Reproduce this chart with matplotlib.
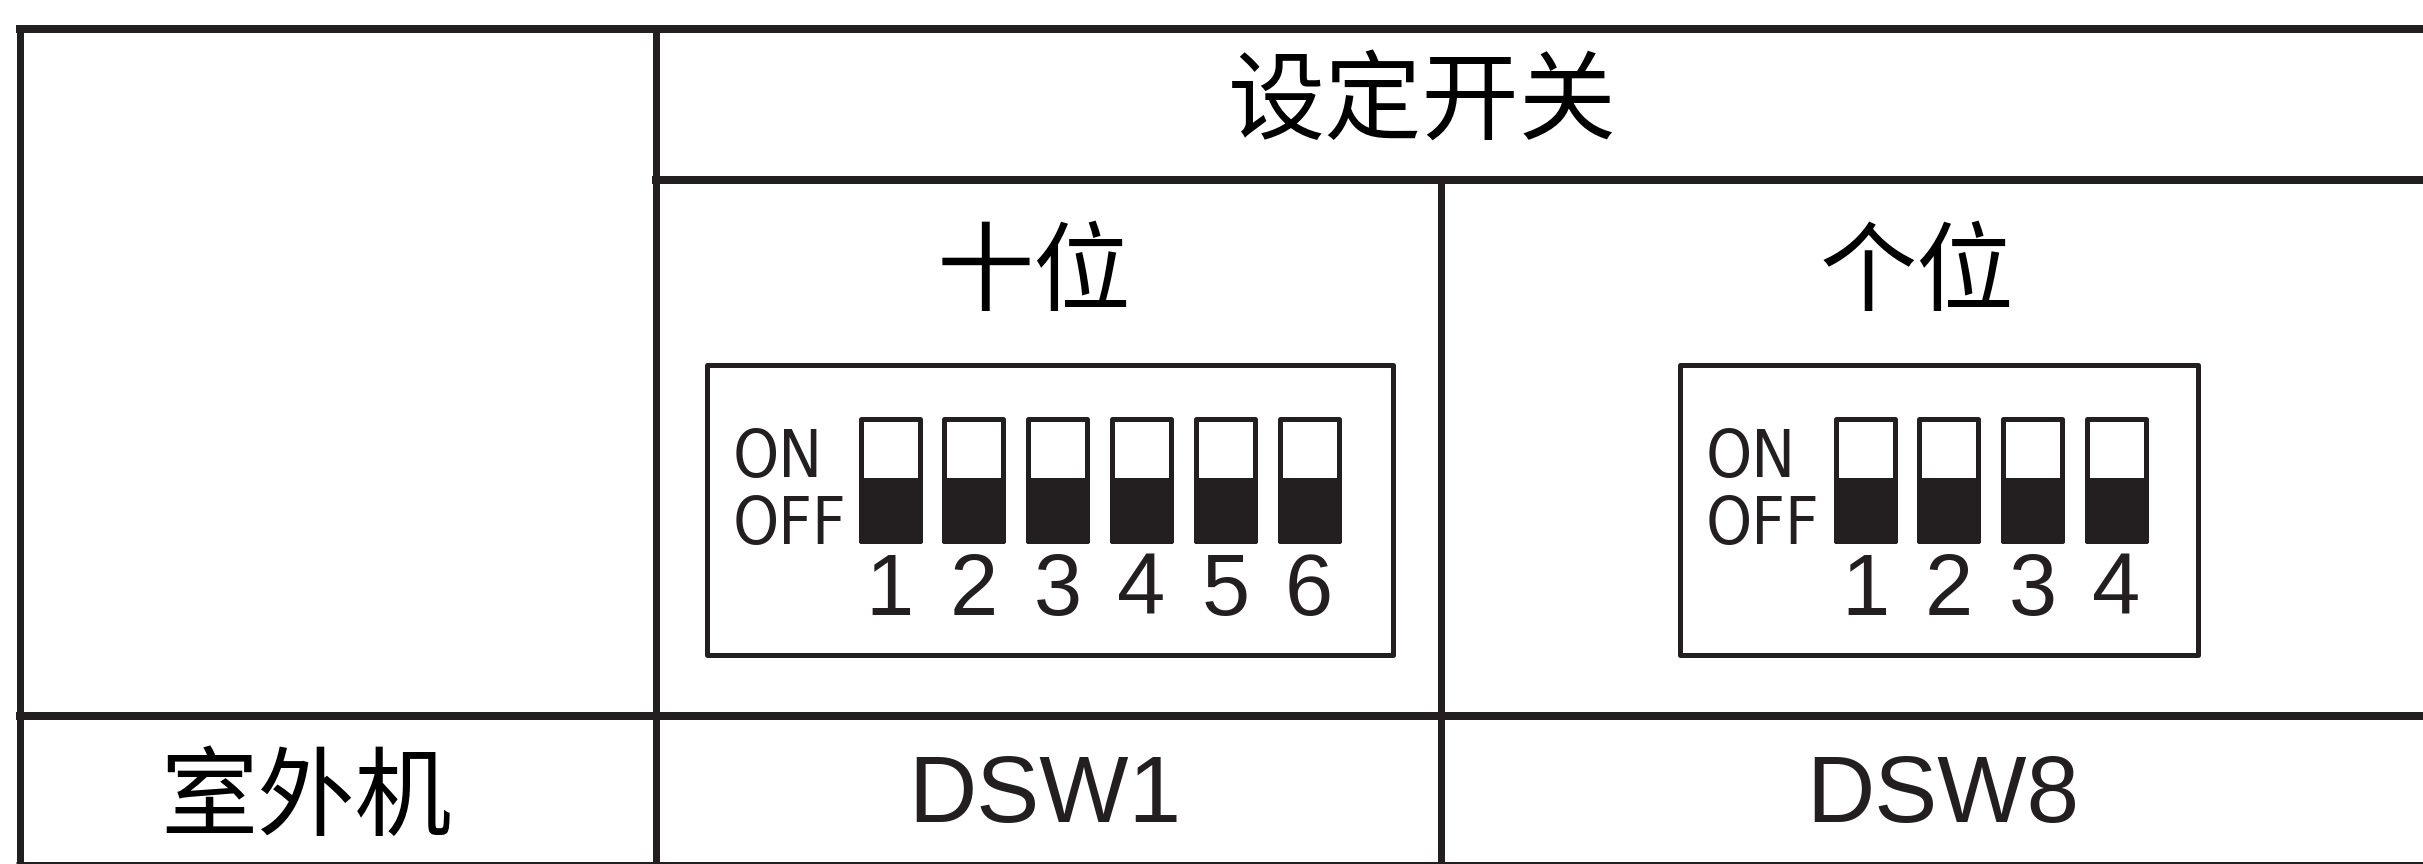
import matplotlib
matplotlib.use("Agg")
import matplotlib.pyplot as plt
from matplotlib.patches import Rectangle
from matplotlib import font_manager
from matplotlib.font_manager import FontProperties

# %% Data

title = "设定开关"
group_names = ["十位", "个位"]
row_name = "室外机"
switch_names = ["DSW1", "DSW8"]
switch_labels = [["1", "2", "3", "4", "5", "6"], ["1", "2", "3", "4"]]
switch_states = [["OFF"] * 6, ["OFF"] * 4]   # all pins set to OFF

# %% Layout (pixels)

W, H, DPI = 2423, 864, 100
INK = "#231f20"

box_x = [706.5, 1680]          # left edge of each DIP box
box_w = [686, 518]
box_y0, box_y1 = 364.5, 654.5
sw_x0 = [860.5, 1835.5]        # left edge of first switch
sw_pitch, sw_w = 83.8, 59
sw_y0, sw_y1, sw_mid = 418.5, 540.5, 480
col_centers = [1045, 1943]

cjk = ["Noto Sans CJK SC", "DejaVu Sans"]

# narrow face for the ON / OFF marks, if one is installed
narrow_fp, narrow_size = None, 47
for f in font_manager.fontManager.ttflist:
    n = f.name.lower()
    if "mono" in n or "serif" in n:
        continue
    if "narrow" in n or "condensed" in n or f.stretch in ("condensed", "semi-condensed"):
        if f.weight in ("normal", 400, "regular", "book") and f.style == "normal":
            narrow_fp = FontProperties(fname=f.fname)
            break
if narrow_fp is None:
    narrow_fp = FontProperties(family="Liberation Sans")
    narrow_size = 40


def lw(px):
    return px * 72 / DPI


fig = plt.figure(figsize=(W / DPI, H / DPI), dpi=DPI)
ax = fig.add_axes([0, 0, 1, 1])
ax.set_xlim(0, W)
ax.set_ylim(H, 0)
ax.axis("off")

# %% Table grid

ax.plot([16, W], [29, 29], color=INK, lw=lw(8), solid_capstyle="butt")
ax.plot([652, W], [180, 180], color=INK, lw=lw(8), solid_capstyle="butt")
ax.plot([16, W], [716, 716], color=INK, lw=lw(8), solid_capstyle="butt")
ax.plot([16, W], [862.5, 862.5], color=INK, lw=lw(3), solid_capstyle="butt")
ax.plot([19.5, 19.5], [25, H], color=INK, lw=lw(7), solid_capstyle="butt")
ax.plot([656, 656], [25, H], color=INK, lw=lw(7), solid_capstyle="butt")
ax.plot([1441, 1441], [180, H], color=INK, lw=lw(7), solid_capstyle="butt")

# %% Headers

ax.text(1422, 104, title, family=cjk, fontsize=70, color="black",
        ha="center", va="center")
for cx, g in zip([1034, 1917], group_names):
    ax.text(cx, 275, g, family=cjk, fontsize=70, color="black",
            ha="center", va="center")
ax.text(306, 800, row_name, family=cjk, fontsize=70, color="black",
        ha="center", va="center")
for cx, s in zip(col_centers, switch_names):
    ax.text(cx, 822, s, family="Liberation Sans", fontsize=68, color=INK,
            ha="center", va="baseline")

# %% DIP switches

for k in range(2):
    ax.add_patch(Rectangle((box_x[k], box_y0), box_w[k], box_y1 - box_y0,
                           fill=False, ec=INK, lw=lw(5), joinstyle="round"))
    ax.text(box_x[k] + 26, 477, "ON", fontproperties=narrow_fp,
            fontsize=narrow_size, color=INK, ha="left", va="baseline")
    ax.text(box_x[k] + 26, 544, "OFF", fontproperties=narrow_fp,
            fontsize=narrow_size, color=INK, ha="left", va="baseline")
    for i, (lab, st) in enumerate(zip(switch_labels[k], switch_states[k])):
        x = sw_x0[k] + i * sw_pitch
        ax.add_patch(Rectangle((x, sw_y0), sw_w, sw_y1 - sw_y0, fc="white",
                               ec=INK, lw=lw(5), joinstyle="round"))
        if st == "OFF":
            ax.add_patch(Rectangle((x, sw_mid), sw_w, sw_y1 - sw_mid, fc=INK,
                                   ec=INK, lw=lw(5), joinstyle="round"))
        else:
            ax.add_patch(Rectangle((x, sw_y0), sw_w, sw_mid - sw_y0, fc=INK,
                                   ec=INK, lw=lw(5), joinstyle="round"))
        ax.text(x + sw_w / 2, 615, lab, family="Liberation Sans", fontsize=62.5,
                color=INK, ha="center", va="baseline")

fig.savefig("out.png", dpi=DPI)
